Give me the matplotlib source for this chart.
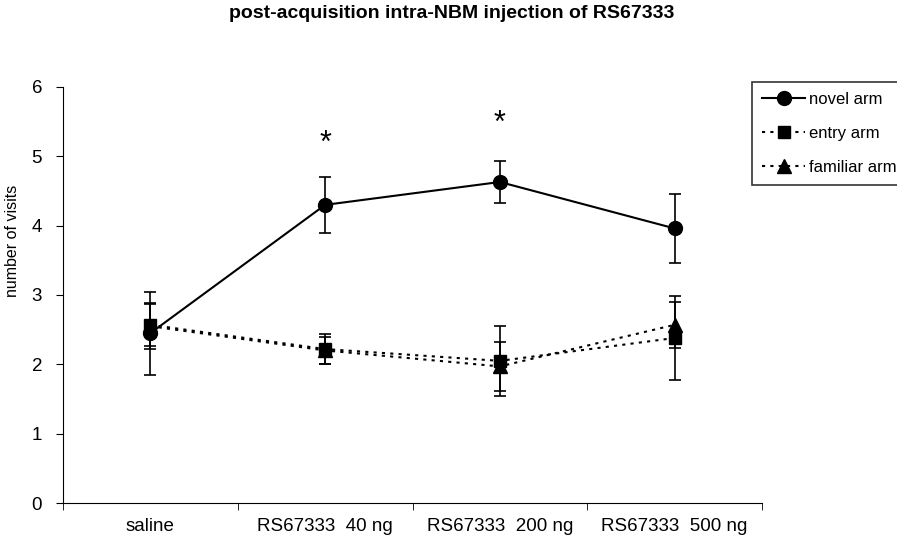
import numpy as np
import matplotlib
matplotlib.use("Agg")
import matplotlib.pyplot as plt
from matplotlib.lines import Line2D

plt.rcParams["font.family"] = ["Liberation Sans", "DejaVu Sans"]

# 資料
categories = ["saline", "RS67333  40 ng", "RS67333  200 ng", "RS67333  500 ng"]
novel = [2.45, 4.30, 4.63, 3.96]
novel_err = [0.60, 0.40, 0.30, 0.50]
entry = [2.57, 2.22, 2.05, 2.38]
entry_err = [0.30, 0.22, 0.50, 0.60]
familiar = [2.55, 2.20, 1.97, 2.57]
familiar_err = [0.33, 0.20, 0.35, 0.33]
stars = [None, 5.18, 5.47, None]

x = np.arange(len(categories))
dot = (0, (1.5, 2.5))

fig = plt.figure(figsize=(8.97, 5.42), dpi=100)
ax = fig.add_axes([63 / 897, 1 - 503 / 542, (762 - 63) / 897, (503 - 87) / 542])

err_kw = dict(ecolor="black", elinewidth=1.2, capsize=4, capthick=1.2, color="black")
ax.errorbar(x, novel, yerr=novel_err, fmt="-o", lw=1.5, ms=10, **err_kw)
ax.errorbar(x, entry, yerr=entry_err, fmt="s", ls=dot, lw=1.5, ms=9, **err_kw)
ax.errorbar(x, familiar, yerr=familiar_err, fmt="^", ls=dot, lw=1.5, ms=10, **err_kw)

# 顯著標記
for i, s in enumerate(stars):
    if s is not None:
        ax.text(x[i], s, "*", ha="center", va="center", fontsize=22)

ax.set_xlim(-0.5, len(categories) - 0.5)
ax.set_ylim(0, 6)
ax.set_yticks(range(0, 7))
ax.set_xticks(x)
ax.set_xticklabels(categories, fontsize=13.5)
ax.set_xticks(np.arange(-0.5, len(categories), 1), minor=True)
ax.tick_params(axis="x", which="major", length=0, pad=11)
ax.tick_params(axis="x", which="minor", length=5, direction="out")
ax.tick_params(axis="y", length=5, labelsize=13.5, pad=10)
ax.spines["top"].set_visible(False)
ax.spines["right"].set_visible(False)
ax.set_ylabel("number of visits", fontsize=11.5)
ax.yaxis.set_label_coords(-0.062, 0.63)

fig.text(452 / 897, 1 - 14 / 542, "post-acquisition intra-NBM injection of RS67333",
         ha="center", va="center", fontsize=14, fontweight="bold")

handles = [
    Line2D([], [], color="black", lw=1.5, marker="o", ms=10),
    Line2D([], [], color="black", lw=1.5, ls=dot, marker="s", ms=9),
    Line2D([], [], color="black", lw=1.5, ls=dot, marker="^", ms=10),
]
leg = ax.legend(handles, ["novel arm", "entry arm", "familiar arm"],
                loc="upper left", bbox_to_anchor=(752 / 897, 1 - 82 / 542),
                bbox_transform=fig.transFigure, fontsize=12, frameon=True,
                fancybox=False, edgecolor="black", handlelength=2.6,
                handletextpad=0.2, borderaxespad=0, borderpad=0.6,
                labelspacing=1.15)
leg.get_frame().set_linewidth(1.2)

plt.savefig("out.png", dpi=100)
